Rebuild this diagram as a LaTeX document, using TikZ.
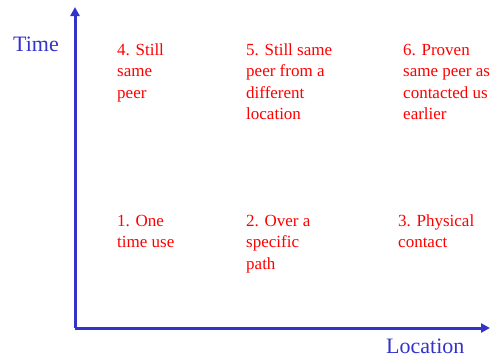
\documentclass[tikz,border=0pt]{standalone}
\usepackage{fontspec}
\setmainfont{Liberation Serif}
\usetikzlibrary{arrows.meta}
\definecolor{axisblue}{RGB}{51,51,204}
\definecolor{labelred}{RGB}{255,0,0}
\begin{document}
\begin{tikzpicture}[x=1pt,y=-1pt,
  axis/.style={draw=axisblue,line width=3pt,-{Triangle[length=9pt,width=9pt]}},
  axislabel/.style={text=axisblue,font=\fontsize{22}{26}\selectfont,inner sep=0pt,anchor=base west},
  % cells are anchored at the baseline of their last line (21.5pt line pitch)
  cell/.style={text=labelred,font=\fontsize{17}{21.5}\selectfont,inner sep=0pt,anchor=base west,align=left}]
  \useasboundingbox (0,0) rectangle (495,357);
  % axes
  \coordinate (origin) at (75,328);
  \coordinate (ytip) at (75,7);
  \coordinate (xtip) at (490,328);
  \draw[axis] (origin) -- (ytip);
  \draw[axis] (origin) -- (xtip);
  \node[axislabel] (time) at (13,51) {Time};
  \node[axislabel] (location) at (386,353) {Location};
  % upper row
  \node[cell] (c4) at (117,98) {4. Still\\same\\peer};
  \node[cell] (c5) at (246,119.5) {5. Still same\\peer from a\\different\\location};
  \node[cell] (c6) at (403,119.5) {6. Proven\\same peer as\\contacted us\\earlier};
  % lower row
  \node[cell] (c1) at (117,247.5) {1. One\\time use};
  \node[cell] (c2) at (246,269) {2. Over a\\specific\\path};
  \node[cell] (c3) at (398,247.5) {3. Physical\\contact};
\end{tikzpicture}
\end{document}
